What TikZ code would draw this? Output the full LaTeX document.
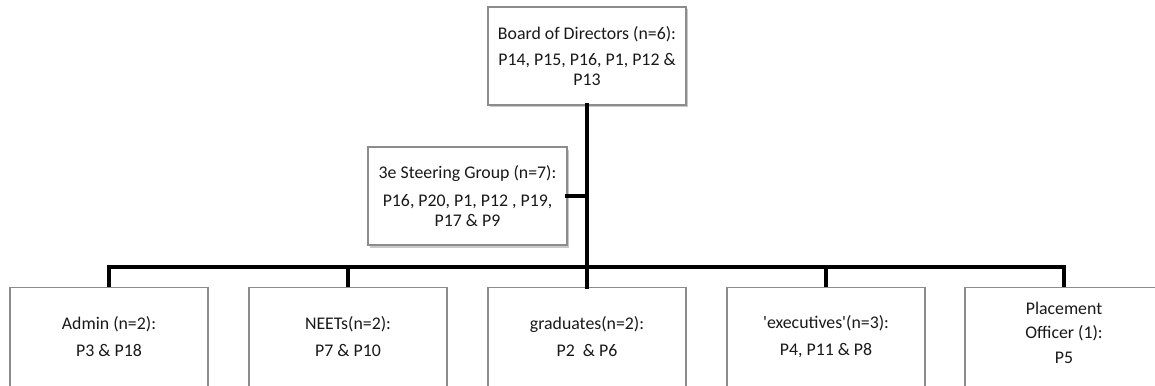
\documentclass[tikz,border=0pt]{standalone}
\usepackage{fontspec}
\setmainfont{Carlito}
\usetikzlibrary{shadows}
\tikzset{
  box/.style={draw=black!45, line width=1.3pt, fill=white, inner sep=0pt},
  shbox/.style={box, drop shadow={shadow xshift=1.5pt, shadow yshift=-2.5pt, opacity=0.35, fill=black!60}},
  txt/.style={align=center, text=black!90, font=\fontsize{17.8}{20}\selectfont, inner sep=0pt},
  conn/.style={line width=4.5pt, black, line cap=rect}
}
\begin{document}
\begin{tikzpicture}[x=1pt, y=-1pt]
\useasboundingbox (0,0) rectangle (1155,385);
\clip (0,0) rectangle (1155,385);
\fill[white] (0,0) rectangle (1155,385);
% boxes
\node[shbox, minimum width=198pt, minimum height=98pt] (board) at (587,56) {};
\node[shbox, minimum width=199pt, minimum height=98pt] (steer) at (467.5,196) {};
\node[box, minimum width=198pt, minimum height=140pt, anchor=north] (b1) at (109,287) {};
\node[box, minimum width=198pt, minimum height=140pt, anchor=north] (b2) at (348,287) {};
\node[box, minimum width=198pt, minimum height=140pt, anchor=north] (b3) at (587,287) {};
\node[box, minimum width=198pt, minimum height=140pt, anchor=north] (b4) at (826,287) {};
\node[box, minimum width=198pt, minimum height=140pt, anchor=north] (b5) at (1064,287) {};
% connectors
\coordinate (bar) at (587,267);
\coordinate (barL) at (b1.north |- bar);
\coordinate (barR) at (b5.north |- bar);
\draw[conn] (board.south) -- (b3.north);
\draw[conn] (steer.east) -- (steer.east -| board.south);
\draw[conn, line cap=butt] (b1.north) -- (barL) -- (barR) -- (b5.north);
\draw[conn, line cap=butt] (b2.north) -- (b2.north |- bar);
\draw[conn, line cap=butt] (b4.north) -- (b4.north |- bar);
% texts
\node[txt] (tboard) at (587,56) {Board of Directors (n=6):\\[6pt]P14, P15, P16, P1, P12 \&\\P13};
\node[txt] (tsteer) at (467.5,196) {3e Steering Group (n=7):\\[8pt]P16, P20, P1, P12 , P19,\\P17 \& P9};
\node[txt] (t1) at (109,336.5) {Admin (n=2):\\[7pt]P3 \& P18};
\node[txt] (t2) at (348,336.5) {NEETs(n=2):\\[7pt]P7 \& P10};
\node[txt] (t3) at (587,336.5) {graduates(n=2):\\[7pt]P2\ \ \& P6};
\node[txt] (t4) at (826,336.5) {\textquotesingle executives\textquotesingle(n=3):\\[7pt]P4, P11 \& P8};
\node[txt] (t5) at (1064,332.5) {Placement\\[4pt]Officer (1):\\[5pt]P5};
\end{tikzpicture}
\end{document}
